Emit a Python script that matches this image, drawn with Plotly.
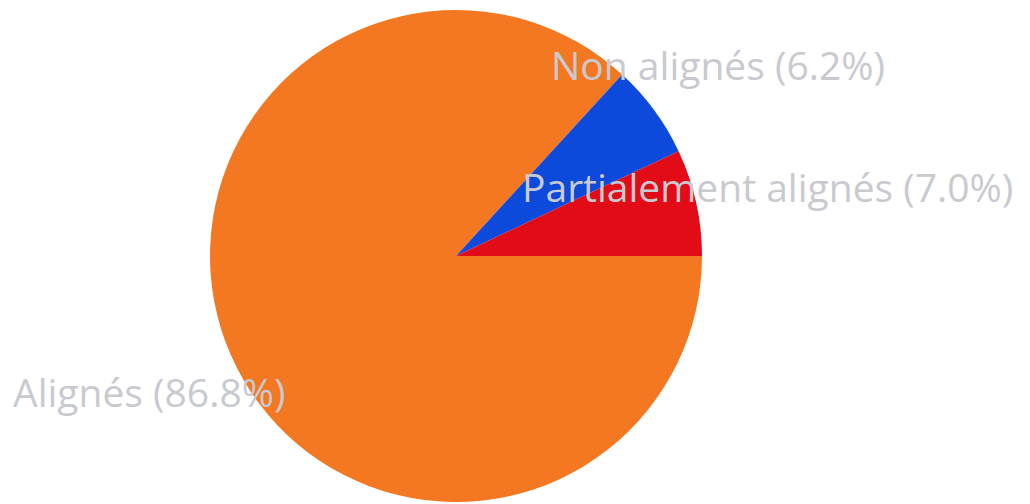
import plotly.graph_objects as go

labels = ["Alignés", "Non alignés", "Partialement alignés"]
values = [86.8, 6.2, 7.0]
colors = ["#F47721", "#0D4ADB", "#E10C18"]

W, H, OFF = 1022, 496, 8  # page body has an 8px margin


def px(x):
    return (x - OFF) / W


def py(y):
    return 1 - (y - OFF) / H


# label anchor positions (layout only): left edge x, vertical middle y in page pixels
label_pos = [(11, 391), (549, 65), (520, 186)]

cx, cy, r = 456, 256, 246

fig = go.Figure(
    go.Pie(
        labels=labels,
        values=values,
        marker=dict(colors=colors, line=dict(width=0)),
        sort=False,
        direction="clockwise",
        rotation=90,
        textinfo="none",
        hoverinfo="label+percent",
        domain=dict(x=[px(cx - r), px(cx + r)], y=[py(cy + r), py(cy - r)]),
        showlegend=False,
    )
)

annotations = []
for lab, val, (lx, ly) in zip(labels, values, label_pos):
    annotations.append(
        dict(
            text=f"{lab} ({val:.1f}%)",
            x=px(lx),
            y=py(ly),
            xref="paper",
            yref="paper",
            xanchor="left",
            yanchor="middle",
            showarrow=False,
            font=dict(family="Open Sans", size=39, color="#c9cacf"),
        )
    )

fig.update_layout(
    width=W,
    height=H,
    margin=dict(l=0, r=0, t=0, b=0),
    paper_bgcolor="white",
    plot_bgcolor="white",
    annotations=annotations,
)

fig.write_html("out.html")
